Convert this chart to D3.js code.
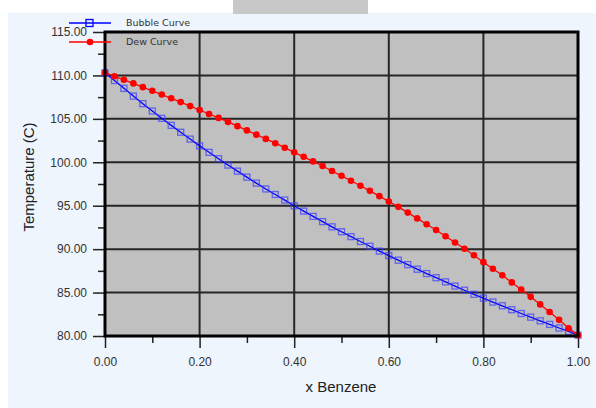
<!DOCTYPE html>
<html>
<head>
<meta charset="utf-8" />
<title>Txy Benzene</title>
<script src="https://cdn.jsdelivr.net/npm/d3@7"></script>
<style>
  body { margin: 0; background: #fff; }
  svg { display: block; font-family: "Liberation Sans", Arial, sans-serif; }
</style>
</head>
<body>
<div id="chart"></div>
<script>
// mole fraction of benzene, step 0.02
var xBenzene = d3.range(0, 51).map(function(i) { return i / 50; });

// bubble curve temperatures (C)
var bubbleT = [110.30, 109.41, 108.51, 107.62, 106.75, 105.90, 105.06, 104.25, 103.46, 102.67,
  101.89, 101.15, 100.41, 99.68, 98.98, 98.29, 97.60, 96.93, 96.29, 95.65,
  94.99, 94.38, 93.77, 93.17, 92.57, 92.00, 91.44, 90.88, 90.33, 89.77,
  89.26, 88.73, 88.22, 87.69, 87.19, 86.71, 86.23, 85.75, 85.27, 84.80,
  84.36, 83.91, 83.48, 83.03, 82.59, 82.17, 81.75, 81.34, 80.92, 80.52, 80.10];

// dew curve temperatures (C)
var dewT = [110.30, 109.91, 109.50, 109.08, 108.65, 108.23, 107.80, 107.37, 106.93, 106.47,
  106.02, 105.56, 105.11, 104.65, 104.16, 103.67, 103.18, 102.69, 102.20, 101.68,
  101.15, 100.63, 100.10, 99.57, 99.00, 98.44, 97.87, 97.30, 96.71, 96.10,
  95.49, 94.87, 94.21, 93.54, 92.87, 92.20, 91.48, 90.76, 90.04, 89.29,
  88.50, 87.75, 86.99, 86.17, 85.35, 84.51, 83.64, 82.77, 81.86, 80.89, 80.10];

var seriesNames = ["Bubble Curve", "Dew Curve"];
var xTicks = [0, 0.2, 0.4, 0.6, 0.8, 1.0];
var yTicks = [80, 85, 90, 95, 100, 105, 110, 115];

var W = 596, H = 408;
var pL = 105, pR = 578, pT = 32, pB = 336;

var svg = d3.select("#chart").append("svg").attr("width", W).attr("height", H);

// panel background and clipped title bar
svg.append("rect").attr("x", 8).attr("y", 13).attr("width", W - 8).attr("height", H - 13)
  .attr("fill", "#eef5fd");
svg.append("rect").attr("x", 233).attr("y", 0).attr("width", 135).attr("height", 14)
  .attr("fill", "#c8c8c8");

var x = d3.scaleLinear().domain([0, 1]).range([pL, pR]);
var y = d3.scaleLinear().domain([80, 115]).range([pB, pT]);

// plot area
svg.append("rect").attr("x", pL).attr("y", pT)
  .attr("width", pR - pL).attr("height", pB - pT).attr("fill", "#c0c0c0");

// grid
svg.append("g").selectAll("line").data(xTicks.slice(1, -1)).enter().append("line")
  .attr("x1", function(d) { return x(d); }).attr("x2", function(d) { return x(d); })
  .attr("y1", pT).attr("y2", pB)
  .attr("stroke", "#262626").attr("stroke-width", 2);
svg.append("g").selectAll("line").data(yTicks.slice(1, -1)).enter().append("line")
  .attr("y1", function(d) { return y(d); }).attr("y2", function(d) { return y(d); })
  .attr("x1", pL).attr("x2", pR)
  .attr("stroke", "#262626").attr("stroke-width", 2);

// axes
svg.append("g").attr("transform", "translate(0," + pB + ")")
  .call(d3.axisBottom(x).tickValues(xTicks).tickFormat(d3.format(".2f")).tickSize(12).tickPadding(9));
svg.append("g").attr("transform", "translate(0," + pB + ")")
  .call(d3.axisBottom(x).tickValues([0.1, 0.3, 0.5, 0.7, 0.9]).tickFormat("").tickSize(7));
svg.append("g").attr("transform", "translate(" + pL + ",0)")
  .call(d3.axisLeft(y).tickValues(yTicks).tickFormat(d3.format(".2f")).tickSize(12).tickPadding(6));
svg.append("g").attr("transform", "translate(" + pL + ",0)")
  .call(d3.axisLeft(y).tickValues([82.5, 87.5, 92.5, 97.5, 102.5, 107.5, 112.5]).tickFormat("").tickSize(7));

svg.selectAll(".domain").remove();
svg.selectAll(".tick line").attr("stroke", "#222").attr("stroke-width", 1.5);
svg.selectAll(".tick text").attr("fill", "#333").attr("font-size", 12)
  .attr("font-family", "'Liberation Sans', Arial, sans-serif");

// series
var bubble = xBenzene.map(function(d, i) { return [d, bubbleT[i]]; });
var dew = xBenzene.map(function(d, i) { return [d, dewT[i]]; });
var line = d3.line().x(function(d) { return x(d[0]); }).y(function(d) { return y(d[1]); });

svg.append("path").datum(bubble).attr("d", line)
  .attr("fill", "none").attr("stroke", "#0000ff").attr("stroke-width", 1.3);
svg.append("g").selectAll("rect").data(bubble).enter().append("rect")
  .attr("x", function(d) { return x(d[0]) - 3; })
  .attr("y", function(d) { return y(d[1]) - 3; })
  .attr("width", 6).attr("height", 6)
  .attr("fill", "none").attr("stroke", "#3a3aff").attr("stroke-opacity", 0.7).attr("stroke-width", 1.3);

svg.append("path").datum(dew).attr("d", line)
  .attr("fill", "none").attr("stroke", "#ff0000").attr("stroke-width", 1.3);
svg.append("g").selectAll("circle").data(dew).enter().append("circle")
  .attr("cx", function(d) { return x(d[0]); })
  .attr("cy", function(d) { return y(d[1]); })
  .attr("r", 3.3).attr("fill", "#ff0000");

// frame
svg.append("rect").attr("x", pL).attr("y", pT)
  .attr("width", pR - pL).attr("height", pB - pT)
  .attr("fill", "none").attr("stroke", "#000").attr("stroke-width", 3);

// axis titles
svg.append("text").attr("x", 341).attr("y", 392).attr("text-anchor", "middle")
  .attr("font-size", 15).attr("fill", "#222").text("x Benzene");
svg.append("text").attr("transform", "translate(34,177) rotate(-90)").attr("text-anchor", "middle")
  .attr("font-size", 15).attr("fill", "#222").text("Temperature (C)");

// legend
var legend = svg.append("g");
var legY = [23, 42];
legend.selectAll("line").data(seriesNames).enter().append("line")
  .attr("x1", 69).attr("x2", 111)
  .attr("y1", function(d, i) { return legY[i]; }).attr("y2", function(d, i) { return legY[i]; })
  .attr("stroke", function(d, i) { return i === 0 ? "#0000ff" : "#ff0000"; }).attr("stroke-width", 1.3);
legend.append("rect").attr("x", 86).attr("y", legY[0] - 3.5).attr("width", 7).attr("height", 7)
  .attr("fill", "none").attr("stroke", "#0000ff").attr("stroke-width", 1.3);
legend.append("circle").attr("cx", 90).attr("cy", legY[1]).attr("r", 3.3).attr("fill", "#ff0000");
legend.selectAll("text").data(seriesNames).enter().append("text")
  .attr("x", 126).attr("y", function(d, i) { return legY[i] + 3; })
  .attr("font-family", "'DejaVu Sans', sans-serif")
  .attr("font-size", 9.5).attr("fill", "#333").text(function(d) { return d; });
</script>
</body>
</html>
